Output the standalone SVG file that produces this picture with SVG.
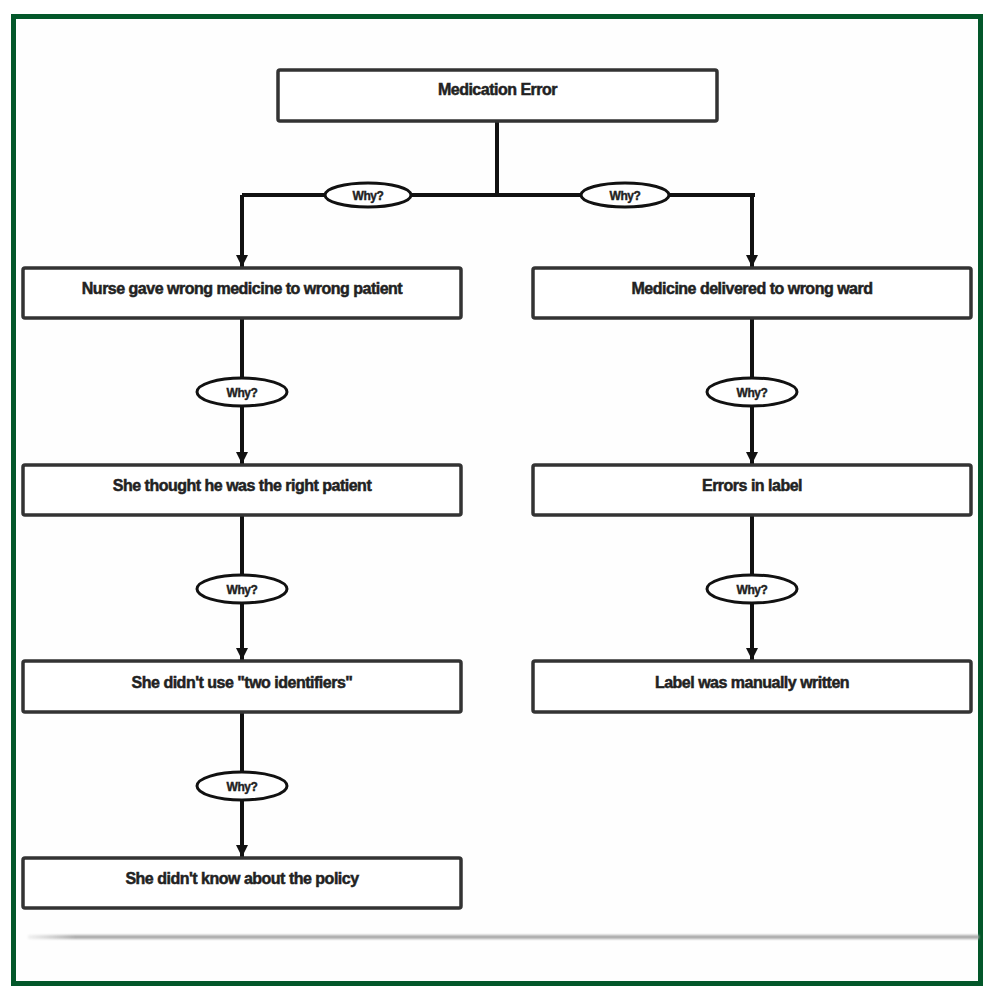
<svg xmlns="http://www.w3.org/2000/svg" width="1000" height="1000" viewBox="0 0 1000 1000">
<defs>
<style>
.box{fill:#fff;stroke:#333;stroke-width:3.5}
.lbl{font-family:"Liberation Sans",Arial,sans-serif;font-weight:bold;font-size:16px;fill:#222;stroke:#222;stroke-width:0.5;text-anchor:middle;letter-spacing:-0.5px}
.why{font-family:"Liberation Sans",Arial,sans-serif;font-weight:bold;font-size:12px;fill:#222;stroke:#222;stroke-width:0.4;text-anchor:middle;letter-spacing:-0.4px}
.conn{fill:none;stroke:#111;stroke-width:4}
.ell{fill:#fff;stroke:#111;stroke-width:3}
</style>
<marker id="arr" viewBox="0 0 12 12" refX="12" refY="6" markerWidth="12" markerHeight="12" markerUnits="userSpaceOnUse" orient="auto">
<path d="M0,0 L12,6 L0,12 Z" fill="#111"/>
</marker>
<filter id="blur" x="-5%" y="-200%" width="110%" height="500%"><feGaussianBlur stdDeviation="1.2"/></filter>
<linearGradient id="sh" x1="0" x2="1" y1="0" y2="0">
<stop offset="0" stop-color="#bbb" stop-opacity="0.2"/>
<stop offset="0.05" stop-color="#aaa"/>
<stop offset="1" stop-color="#aaa"/>
</linearGradient>
</defs>
<rect x="0" y="0" width="1000" height="1000" fill="#fff"/>
<rect x="13.5" y="16.5" width="967" height="967" fill="#fefefe" stroke="#03572a" stroke-width="5"/>
<g id="shadow">
<rect x="28" y="935" width="951" height="4" fill="url(#sh)" filter="url(#blur)"/>
</g>
<g id="connectors">
<path class="conn" d="M497,122 V195 M242,195 H755"/>
<path class="conn" d="M242,195 V267" marker-end="url(#arr)"/>
<path class="conn" d="M752,195 V267" marker-end="url(#arr)"/>
<path class="conn" d="M242,318 V464" marker-end="url(#arr)"/>
<path class="conn" d="M242,515 V660" marker-end="url(#arr)"/>
<path class="conn" d="M242,712 V857" marker-end="url(#arr)"/>
<path class="conn" d="M752,318 V464" marker-end="url(#arr)"/>
<path class="conn" d="M752,515 V660" marker-end="url(#arr)"/>
<g id="why1"><ellipse class="ell" cx="368" cy="195" rx="43" ry="12"/><text class="why" x="368" y="199.5">Why?</text></g>
<g id="why2"><ellipse class="ell" cx="625" cy="195" rx="44" ry="12"/><text class="why" x="625" y="199.5">Why?</text></g>
<g id="why3"><ellipse class="ell" cx="242" cy="392" rx="45" ry="14"/><text class="why" x="242" y="396.5">Why?</text></g>
<g id="why4"><ellipse class="ell" cx="242" cy="589" rx="45" ry="14"/><text class="why" x="242" y="593.5">Why?</text></g>
<g id="why5"><ellipse class="ell" cx="242" cy="786" rx="45" ry="14"/><text class="why" x="242" y="790.5">Why?</text></g>
<g id="why6"><ellipse class="ell" cx="752" cy="392" rx="45" ry="14"/><text class="why" x="752" y="396.5">Why?</text></g>
<g id="why7"><ellipse class="ell" cx="752" cy="589" rx="45" ry="14"/><text class="why" x="752" y="593.5">Why?</text></g>
</g>
<g id="n0"><rect class="box" x="278" y="70" width="439" height="51" rx="2"/><text class="lbl" x="497.5" y="95">Medication Error</text></g>
<g id="n1"><rect class="box" x="23" y="268" width="438" height="50" rx="2"/><text class="lbl" x="242" y="294">Nurse gave wrong medicine to wrong patient</text></g>
<g id="n2"><rect class="box" x="533" y="268" width="438" height="50" rx="2"/><text class="lbl" x="752" y="294">Medicine delivered to wrong ward</text></g>
<g id="n3"><rect class="box" x="23" y="465" width="438" height="50" rx="2"/><text class="lbl" x="242" y="491">She thought he was the right patient</text></g>
<g id="n4"><rect class="box" x="533" y="465" width="438" height="50" rx="2"/><text class="lbl" x="752" y="491">Errors in label</text></g>
<g id="n5"><rect class="box" x="23" y="661" width="438" height="51" rx="2"/><text class="lbl" x="242" y="688">She didn't use "two identifiers"</text></g>
<g id="n6"><rect class="box" x="533" y="661" width="438" height="51" rx="2"/><text class="lbl" x="752" y="688">Label was manually written</text></g>
<g id="n7"><rect class="box" x="23" y="858" width="438" height="50" rx="2"/><text class="lbl" x="242" y="884">She didn't know about the policy</text></g>
</svg>
